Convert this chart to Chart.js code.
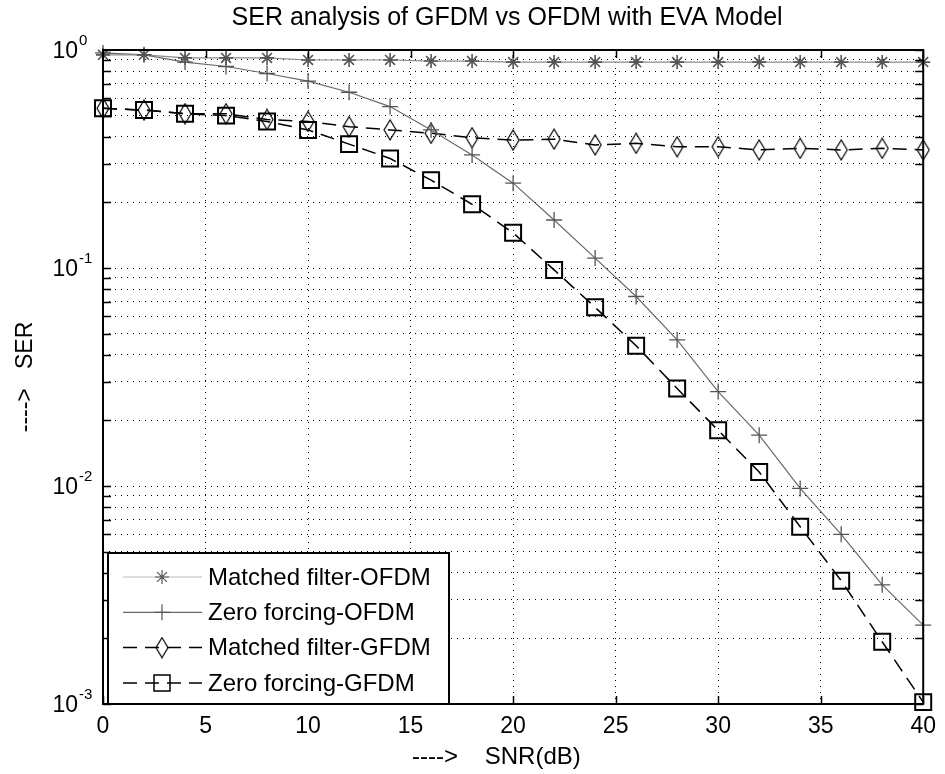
<!DOCTYPE html>
<html lang="en">
<head>
<meta charset="utf-8">
<title>SER analysis of GFDM vs OFDM</title>
<style>
  body { margin: 0; background: #fff; }
  canvas { display: block; }
</style>
</head>
<body>
<canvas id="serChart" width="945" height="774"></canvas>
<script src="https://cdn.jsdelivr.net/npm/chart.js"></script>
<script>
  // values (SNR in dB, SER)
  const SNR      = [0, 2, 4, 6, 8, 10, 12, 14, 16, 18, 20, 22, 24, 26, 28, 30, 32, 34, 36, 38, 40];
  const MF_OFDM  = [0.95, 0.95, 0.92, 0.92, 0.92, 0.90, 0.90, 0.90, 0.89, 0.89, 0.88, 0.88, 0.88, 0.88, 0.88, 0.88, 0.88, 0.88, 0.88, 0.88, 0.88];
  const ZF_OFDM  = [0.97, 0.95, 0.88, 0.84, 0.78, 0.72, 0.64, 0.55, 0.43, 0.33, 0.245, 0.166, 0.111, 0.074, 0.0468, 0.0271, 0.0171, 0.00975, 0.0060, 0.00352, 0.0023];
  const MF_GFDM  = [0.54, 0.53, 0.51, 0.51, 0.48, 0.47, 0.445, 0.43, 0.415, 0.396, 0.386, 0.39, 0.367, 0.373, 0.36, 0.36, 0.348, 0.354, 0.348, 0.354, 0.348];
  const ZF_GFDM  = [0.54, 0.53, 0.51, 0.50, 0.47, 0.43, 0.37, 0.318, 0.253, 0.196, 0.145, 0.098, 0.066, 0.044, 0.028, 0.018, 0.0116, 0.0065, 0.00368, 0.00193, 0.00102];
  const NAMES    = ['Matched filter-OFDM', 'Zero forcing-OFDM', 'Matched filter-GFDM', 'Zero forcing-GFDM'];
  const Y_DECADES = [1, 0.1, 0.01, 0.001];
  const Y_EXPS    = ['0', '-1', '-2', '-3'];
  const TITLE = 'SER analysis of GFDM vs OFDM with EVA Model';

  const FONT = "'Liberation Sans', Arial, Helvetica, sans-serif";

  function pts(ys) { return SNR.map((x, i) => ({x: x, y: ys[i]})); }

  // tall thin diamond, like the matlab 'd' marker in the original
  function diamondMark(w, h) {
    const c = document.createElement('canvas');
    c.width = w; c.height = h;
    const g = c.getContext('2d');
    g.strokeStyle = '#000';
    g.lineWidth = 1.2;
    g.beginPath();
    g.moveTo(w / 2, 1); g.lineTo(w - 1, h / 2); g.lineTo(w / 2, h - 1); g.lineTo(1, h / 2);
    g.closePath();
    g.stroke();
    return c;
  }
  const diamond = diamondMark(14, 22);

  // box, inward ticks, y labels with exponents, title, legend
  const matlabLook = {
    id: 'matlabLook',
    afterDraw(chart) {
      const ctx = chart.ctx;
      const a = chart.chartArea;
      const xs = chart.scales.x, ys = chart.scales.y;
      ctx.save();
      ctx.setLineDash([]);
      ctx.strokeStyle = '#000';

      // tick marks
      ctx.lineWidth = 1.5;
      ctx.beginPath();
      xs.ticks.forEach(t => {
        const px = Math.round(xs.getPixelForValue(t.value)) + 0.5;
        ctx.moveTo(px, a.bottom); ctx.lineTo(px, a.bottom - 8);
        ctx.moveTo(px, a.top); ctx.lineTo(px, a.top + 8);
      });
      ys.ticks.forEach(t => {
        const py = Math.round(ys.getPixelForValue(t.value)) + 0.5;
        ctx.moveTo(a.left, py); ctx.lineTo(a.left + 8, py);
        ctx.moveTo(a.right, py); ctx.lineTo(a.right - 8, py);
      });
      ctx.stroke();

      // y labels 10^n
      ctx.fillStyle = '#000';
      Y_DECADES.forEach((v, i) => {
        const py = ys.getPixelForValue(v);
        ctx.font = '23px ' + FONT;
        ctx.textAlign = 'right';
        ctx.textBaseline = 'middle';
        ctx.fillText('10', a.left - 25, py + 2);
        ctx.font = '15px ' + FONT;
        ctx.textAlign = 'left';
        ctx.fillText(Y_EXPS[i], a.left - 24, py - 9);
      });

      // title
      ctx.font = '25px ' + FONT;
      ctx.textAlign = 'center';
      ctx.textBaseline = 'middle';
      ctx.fillText(TITLE, (a.left + a.right) / 2 - 6, 18);

      // legend box
      const L = a.left + 5, T = a.bottom - 151, W = 341, H = 151;
      ctx.fillStyle = '#fff';
      ctx.fillRect(L, T, W, H);
      ctx.lineWidth = 2;
      ctx.strokeRect(L, T, W, H);
      chart.data.datasets.forEach((ds, i) => {
        const y = T + 24 + i * 35.3;
        ctx.strokeStyle = ds.legendLine || ds.borderColor;
        ctx.lineWidth = ds.borderWidth;
        ctx.setLineDash(ds.borderDash || []);
        ctx.beginPath();
        ctx.moveTo(L + 15, y); ctx.lineTo(L + 94, y);
        ctx.stroke();
        ctx.setLineDash([]);
        ctx.strokeStyle = ds.pointBorderColor;
        ctx.fillStyle = 'rgba(0,0,0,0)';
        Chart.helpers.drawPoint(ctx, {
          pointStyle: ds.pointStyle, rotation: 0,
          radius: ds.pointRadius, borderWidth: ds.pointBorderWidth
        }, L + 54, y);
        ctx.fillStyle = '#000';
        ctx.font = '24px ' + FONT;
        ctx.textAlign = 'left';
        ctx.textBaseline = 'middle';
        ctx.fillText(NAMES[i], L + 100, y + 1);
      });

      // axes box
      ctx.strokeStyle = '#000';
      ctx.lineWidth = 2;
      ctx.strokeRect(a.left, a.top, a.right - a.left, a.bottom - a.top);
      ctx.restore();
    }
  };

  new Chart(document.getElementById('serChart'), {
    type: 'line',
    data: {
      datasets: [{
        label: NAMES[0],
        data: pts(MF_OFDM),
        borderColor: '#8a8a8a',
        legendLine: '#bbbbbb',
        borderWidth: 1.2,
        pointStyle: 'star',
        pointRadius: 7,
        pointBorderWidth: 1.6,
        pointBorderColor: '#555',
        pointBackgroundColor: 'rgba(0,0,0,0)'
      }, {
        label: NAMES[1],
        data: pts(ZF_OFDM),
        borderColor: '#6a6a6a',
        borderWidth: 1.2,
        pointStyle: 'cross',
        pointRadius: 8,
        pointBorderWidth: 1.3,
        pointBorderColor: '#555',
        pointBackgroundColor: 'rgba(0,0,0,0)'
      }, {
        label: NAMES[2],
        data: pts(MF_GFDM),
        borderColor: '#000',
        borderWidth: 1.5,
        borderDash: [14, 8],
        pointStyle: diamond,
        pointRadius: 8,
        pointBorderWidth: 1.2,
        pointBorderColor: '#000',
        pointBackgroundColor: 'rgba(0,0,0,0)'
      }, {
        label: NAMES[3],
        data: pts(ZF_GFDM),
        borderColor: '#000',
        borderWidth: 1.5,
        borderDash: [14, 8],
        pointStyle: 'rect',
        pointRadius: 11.3,
        pointBorderWidth: 2,
        pointBorderColor: '#000',
        pointBackgroundColor: 'rgba(0,0,0,0)'
      }]
    },
    options: {
      responsive: false,
      animation: false,
      clip: false,
      layout: {padding: {top: 50, right: 13, left: 0, bottom: 0}},
      plugins: {legend: {display: false}, tooltip: {enabled: false}},
      elements: {line: {tension: 0}},
      scales: {
        x: {
          type: 'linear', min: 0, max: 40,
          afterFit: (s) => { s.height = 70; },
          ticks: {stepSize: 5, color: '#000', padding: 9, font: {family: FONT, size: 23}},
          grid: {color: '#000', lineWidth: 1, drawTicks: false},
          border: {display: false, dash: [1, 5]},
          title: {display: true, text: '---->    SNR(dB)     ', color: '#000',
                  font: {family: FONT, size: 24}, padding: {top: 0, bottom: 2}}
        },
        y: {
          type: 'logarithmic', min: 0.001, max: 1,
          afterFit: (s) => { s.width = 103; },
          afterBuildTicks: (axis) => {
            const t = [];
            Y_DECADES.forEach(d => {
              if (d === 1) { t.push({value: 1}); return; }
              for (let m = 1; m <= 9; m++) t.push({value: d * m});
            });
            axis.ticks = t;
          },
          ticks: {display: false},
          grid: {color: '#000', lineWidth: 1, drawTicks: false},
          border: {display: false, dash: [1, 5]},
          title: {display: true, text: '---->   SER', color: '#000',
                  font: {family: FONT, size: 23}, padding: {top: 12, bottom: 0}}
        }
      }
    },
    plugins: [matlabLook]
  });
</script>
</body>
</html>
